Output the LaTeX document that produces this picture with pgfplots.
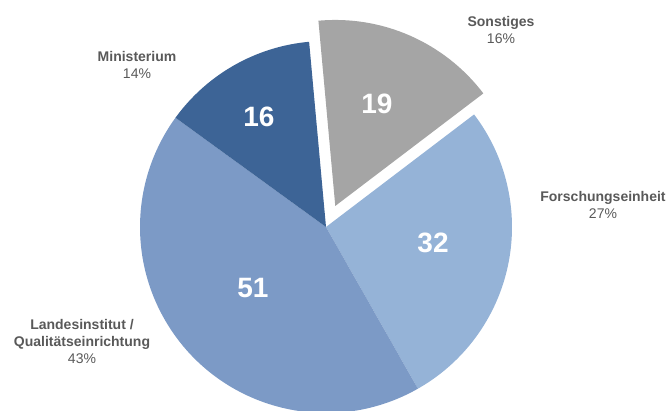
\documentclass[border=0pt]{standalone}
\usepackage{pgfplots}
\pgfplotsset{compat=1.18}
\usepackage{fontspec}
\setmainfont{Liberation Sans}
\definecolor{cMin}{RGB}{61,100,150}
\definecolor{cLan}{RGB}{124,154,198}
\definecolor{cFor}{RGB}{149,179,215}
\definecolor{cSon}{RGB}{165,165,165}
\definecolor{txt}{RGB}{89,89,89}

% slice values (clockwise from the top)
\def\vSon{19}
\def\vFor{32}
\def\vLan{51}
\def\vMin{16}
\pgfmathsetmacro\tot{\vSon+\vFor+\vLan+\vMin}
\pgfmathsetmacro\aA{95.2}
\pgfmathsetmacro\aB{\aA-360*(\vSon/\tot)}
\pgfmathsetmacro\aC{\aB-360*(\vFor/\tot)}
\pgfmathsetmacro\aD{\aC-360*(\vLan/\tot)}
\pgfmathsetmacro\aE{\aD-360*(\vMin/\tot)}
\pgfmathsetmacro\aMid{(\aA+\aB)/2}
\def\R{186pt}

\begin{document}
\begin{tikzpicture}
\begin{axis}[
    scale only axis,
    width=672pt, height=411pt,
    xmin=0, xmax=672, ymin=0, ymax=411,
    hide axis,
]
\path (axis cs:0,0) rectangle (axis cs:672,411);
% pie centre at (326,184); arcs kept out of the bounding box
\fill[cFor, overlay] (axis cs:326,184) -- ++(\aB:\R) arc[start angle=\aB, end angle=\aC, radius=\R] -- cycle;
\fill[cLan, overlay] (axis cs:326,184) -- ++(\aC:\R) arc[start angle=\aC, end angle=\aD, radius=\R] -- cycle;
\fill[cMin, overlay] (axis cs:326,184) -- ++(\aD:\R) arc[start angle=\aD, end angle=\aE, radius=\R] -- cycle;
% exploded slice
\fill[cSon, overlay] (axis cs:326,184) ++(\aMid:23pt) -- ++(\aA:\R) arc[start angle=\aA, end angle=\aB, radius=\R] -- cycle;

\begin{scope}[every node/.style={font=\fontsize{28}{30}\selectfont\bfseries, text=white}]
\node at (axis cs:377,307) {19};
\node at (axis cs:433,168) {32};
\node at (axis cs:253,123) {51};
\node at (axis cs:259,294) {16};
\end{scope}

\begin{scope}[every node/.style={font=\fontsize{14}{17}\selectfont, text=txt, align=center, inner sep=0pt}]
\node at (axis cs:501,380.5) {\textbf{Sonstiges}\\16\%};
\node at (axis cs:603,206) {\textbf{Forschungseinheit}\\27\%};
\node at (axis cs:82,69) {\textbf{Landesinstitut /}\\\textbf{Qualitätseinrichtung}\\43\%};
\node at (axis cs:137,346) {\textbf{Ministerium}\\14\%};
\end{scope}
\end{axis}
\end{tikzpicture}
\end{document}
